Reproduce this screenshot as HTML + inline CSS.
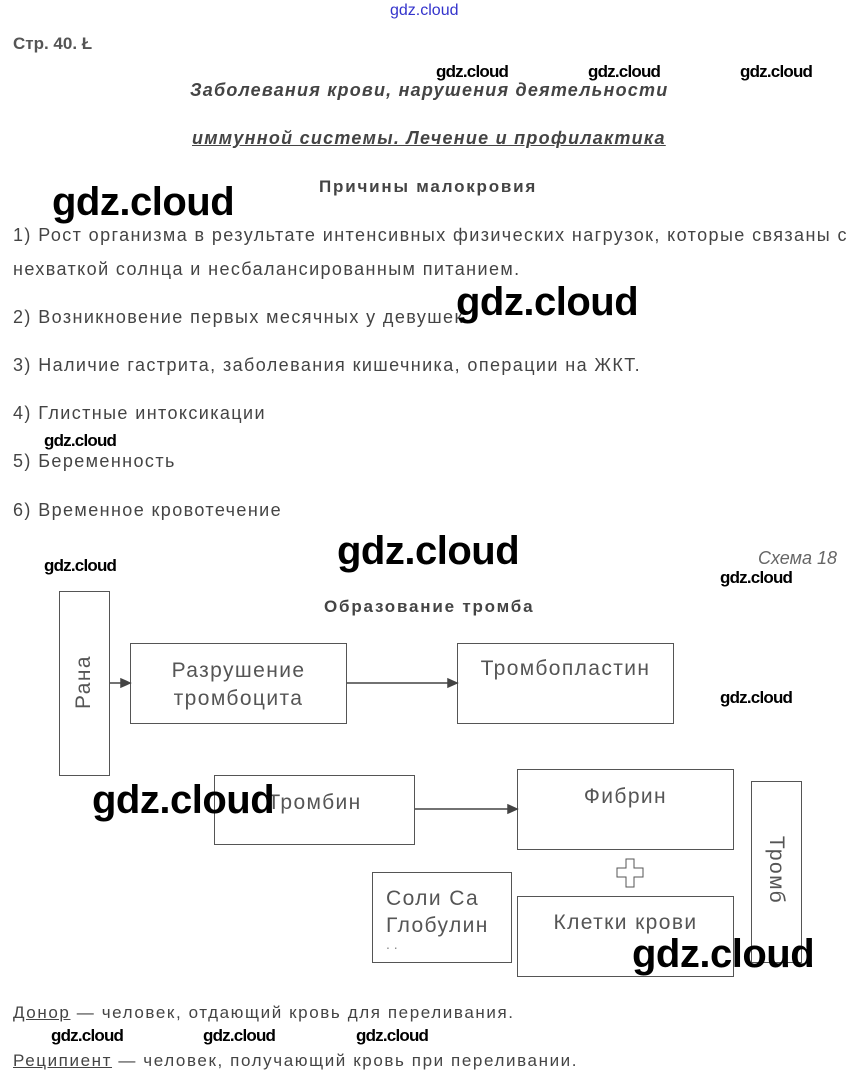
<!DOCTYPE html>
<html><head><meta charset="utf-8"><style>
body{margin:0;width:855px;height:1088px;background:#fff;position:relative;overflow:hidden;font-family:"Liberation Sans",sans-serif;color:#444}
.a{position:absolute;white-space:nowrap}
.t{font-size:18px;letter-spacing:1.4px}
.w{position:absolute;white-space:nowrap;color:#000;font-family:"Liberation Sans",sans-serif;font-weight:bold}
.ws{font-size:17px;letter-spacing:-0.8px}
.wb{font-size:40px;letter-spacing:-0.5px}
.box{position:absolute;border:1px solid #555;box-sizing:border-box;background:#fff}
.bt{position:absolute;font-size:21px;color:#555;text-align:center;white-space:nowrap;letter-spacing:1.4px}
</style></head><body>
<div class="a" style="left:390px;top:2px;font-size:16px;color:#33c">gdz.cloud</div>
<div class="a" style="left:13px;top:34px;font-size:17px;font-weight:bold;color:#555">Стр. 40. Ł</div>
<div class="a" style="left:190px;top:80px;font-size:18px;font-weight:bold;font-style:italic;letter-spacing:1.2px">Заболевания крови, нарушения деятельности</div>
<div class="a" style="left:192px;top:128px;font-size:18px;font-weight:bold;font-style:italic;text-decoration:underline;letter-spacing:1.25px">иммунной системы. Лечение и профилактика</div>
<div class="a" style="left:319px;top:177px;font-size:17px;font-weight:bold;letter-spacing:1.8px">Причины малокровия</div>
<div class="a t" style="left:13px;top:225px">1) Рост организма в результате интенсивных физических нагрузок, которые связаны с</div>
<div class="a t" style="left:13px;top:259px">нехваткой солнца и несбалансированным питанием.</div>
<div class="a t" style="left:13px;top:307px">2) Возникновение первых месячных у девушек.</div>
<div class="a t" style="left:13px;top:355px">3) Наличие гастрита, заболевания кишечника, операции на ЖКТ.</div>
<div class="a t" style="left:13px;top:403px">4) Глистные интоксикации</div>
<div class="a t" style="left:13px;top:451px">5) Беременность</div>
<div class="a t" style="left:13px;top:500px">6) Временное кровотечение</div>
<div class="a" style="left:758px;top:548px;font-size:18px;font-style:italic;color:#666">Схема 18</div>
<div class="a" style="left:324px;top:597px;font-size:17px;font-weight:bold;letter-spacing:1.8px">Образование тромба</div>

<div class="box" style="left:59px;top:591px;width:51px;height:185px"></div>
<div class="bt" style="left:44px;top:670px;width:80px;transform:rotate(-90deg)">Рана</div>
<div class="box" style="left:130px;top:643px;width:217px;height:81px"></div>
<div class="bt" style="left:130px;top:657px;width:217px;line-height:28px">Разрушение<br>тромбоцита</div>
<div class="box" style="left:457px;top:643px;width:217px;height:81px"></div>
<div class="bt" style="left:457px;top:657px;width:217px">Тромбопластин</div>
<div class="box" style="left:214px;top:775px;width:201px;height:70px"></div>
<div class="bt" style="left:214px;top:791px;width:201px">Тромбин</div>
<div class="box" style="left:517px;top:769px;width:217px;height:81px"></div>
<div class="bt" style="left:517px;top:785px;width:217px">Фибрин</div>
<div class="box" style="left:751px;top:781px;width:51px;height:182px"></div>
<div class="bt" style="left:736px;top:858px;width:80px;transform:rotate(90deg)">Тромб</div>
<div class="box" style="left:372px;top:872px;width:140px;height:91px"></div>
<div class="bt" style="left:386px;top:885px;text-align:left;line-height:27px">Соли Са<br>Глобулин</div>
<div class="a" style="left:386px;top:936px;font-size:14px;color:#888">. .</div>
<div class="box" style="left:517px;top:896px;width:217px;height:81px"></div>
<div class="bt" style="left:517px;top:911px;width:217px">Клетки крови</div>
<svg class="a" style="left:0;top:0" width="855" height="1088">
<g stroke="#444" stroke-width="1.5" fill="#444">
<line x1="110" y1="683" x2="124" y2="683"/><polygon points="130,683 121,679 121,687"/>
<line x1="347" y1="683" x2="451" y2="683"/><polygon points="457,683 448,679 448,687"/>
<line x1="415" y1="809" x2="511" y2="809"/><polygon points="517,809 508,805 508,813"/>
</g>
<polygon points="626,859 634,859 634,868 643,868 643,877 634,877 634,887 626,887 626,877 617,877 617,868 626,868" fill="#fff" stroke="#555" stroke-width="1"/>
</svg>
<div class="a" style="left:13px;top:1003px;font-size:17px;letter-spacing:1.6px"><u>Донор</u> — человек, отдающий кровь для переливания.</div>
<div class="a" style="left:13px;top:1051px;font-size:17px;letter-spacing:1.6px"><u>Реципиент</u> — человек, получающий кровь при переливании.</div>

<div class="w ws" style="left:436px;top:62px">gdz.cloud</div>
<div class="w ws" style="left:588px;top:62px">gdz.cloud</div>
<div class="w ws" style="left:740px;top:62px">gdz.cloud</div>
<div class="w wb" style="left:52px;top:180px">gdz.cloud</div>
<div class="w wb" style="left:456px;top:280px">gdz.cloud</div>
<div class="w ws" style="left:44px;top:431px">gdz.cloud</div>
<div class="w wb" style="left:337px;top:529px">gdz.cloud</div>
<div class="w ws" style="left:44px;top:556px">gdz.cloud</div>
<div class="w ws" style="left:720px;top:568px">gdz.cloud</div>
<div class="w ws" style="left:720px;top:688px">gdz.cloud</div>
<div class="w wb" style="left:92px;top:778px">gdz.cloud</div>
<div class="w wb" style="left:632px;top:932px">gdz.cloud</div>
<div class="w ws" style="left:51px;top:1026px">gdz.cloud</div>
<div class="w ws" style="left:203px;top:1026px">gdz.cloud</div>
<div class="w ws" style="left:356px;top:1026px">gdz.cloud</div>
</body></html>
